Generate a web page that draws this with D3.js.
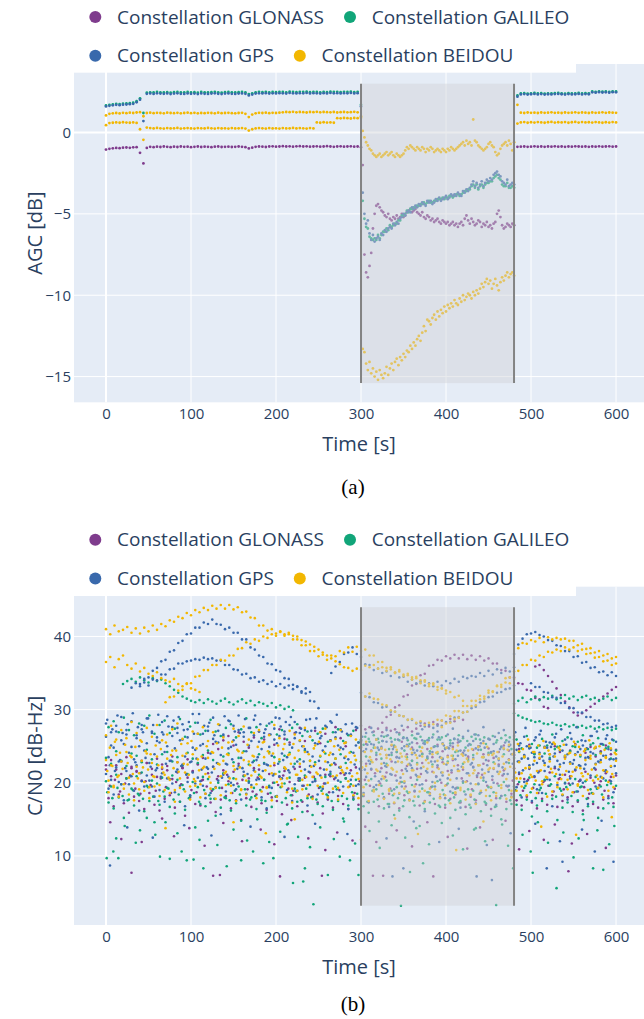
<!DOCTYPE html>
<html>
<head>
<meta charset="utf-8">
<script src="https://cdn.jsdelivr.net/npm/d3@7"></script>
<style>
  body { margin: 0; background: #fff; }
  svg text { font-family: "Open Sans", verdana, arial, sans-serif; }
</style>
</head>
<body>
<div id="chart"></div>
<script>
// ---------- shared ----------
var constellations = ["GLONASS", "GALILEO", "GPS", "BEIDOU"];
var timeTicks = [0, 100, 200, 300, 400, 500, 600];
var agcTicks = [-15, -10, -5, 0];
var cnoTicks = [10, 20, 30, 40];
var jamWindow = [300, 480];
var agcJamRange = [-15.4, 3.0];
var cnoJamRange = [3.2, 44.0];

// ---------- AGC [dB]: pre (t=0..296 every 4 s), jam (t=300..480 every 2 s), post (t=484..600 every 4 s) ----------
var agcGlonassPre = [-1.05,-1.0,-0.97,-0.95,-0.96,-0.93,-0.92,-0.94,-0.91,-0.9,
 -1.25,-1.9,-0.95,-0.88,-0.9,-0.87,-0.89,-0.86,-0.88,-0.9,
 -0.87,-0.89,-0.86,-0.88,-0.87,-0.9,-0.88,-0.86,-0.89,-0.87,
 -0.88,-0.9,-0.87,-0.86,-0.89,-0.88,-0.87,-0.89,-0.88,-0.86,
 -0.88,-0.9,-0.98,-0.93,-0.88,-0.86,-0.87,-0.89,-0.86,-0.85,
 -0.87,-0.86,-0.84,-0.86,-0.85,-0.87,-0.85,-0.84,-0.86,-0.85,
 -0.87,-0.86,-0.85,-0.87,-0.86,-0.84,-0.86,-0.88,-0.86,-0.85,
 -0.87,-0.86,-0.85,-0.87,-0.86];
var agcGlonassJam = [-0.9,-2.0,-7.5,-8.6,-8.9,-8.2,-7.4,-5.9,-5.0,-4.5,
 -4.4,-4.6,-4.8,-4.9,-5.1,-5.2,-5.0,-5.3,-5.4,-5.2,
 -5.3,-5.1,-5.3,-5.2,-5.0,-5.2,-5.1,-4.9,-4.8,-4.7,
 -4.9,-4.8,-4.7,-4.9,-5.0,-5.1,-4.9,-5.2,-5.3,-5.1,
 -5.2,-5.4,-5.3,-5.5,-5.4,-5.3,-5.5,-5.6,-5.4,-5.5,
 -5.6,-5.5,-5.7,-5.6,-5.5,-5.7,-5.6,-5.8,-5.6,-5.5,
 -5.7,-5.3,-5.1,-5.4,-5.6,-5.3,-5.5,-5.7,-5.6,-5.4,
 -5.5,-5.8,-5.6,-5.7,-5.5,-5.8,-5.7,-5.9,-5.6,-5.5,
 -5.0,-4.8,-5.2,-5.7,-5.9,-5.8,-5.6,-5.7,-5.8,-5.6,
 -5.7];
var agcGlonassPost = [-0.88,-0.87,-0.86,-0.88,-0.87,-0.85,-0.87,-0.86,-0.88,-0.86,
 -0.87,-0.85,-0.87,-0.86,-0.88,-0.86,-0.87,-0.85,-0.86,-0.87,
 -0.86,-0.88,-0.86,-0.87,-0.85,-0.87,-0.86,-0.85,-0.87,-0.86];

var agcGalileoPre = [1.66,1.7,1.72,1.76,1.75,1.77,1.79,1.8,1.83,1.92,
 2.1,1.2,2.45,2.47,2.46,2.49,2.47,2.46,2.48,2.45,
 2.48,2.49,2.46,2.47,2.49,2.46,2.48,2.45,2.49,2.47,
 2.46,2.48,2.5,2.47,2.45,2.48,2.49,2.47,2.46,2.48,
 2.49,2.47,2.36,2.41,2.47,2.5,2.48,2.5,2.47,2.49,
 2.48,2.5,2.49,2.47,2.51,2.49,2.48,2.5,2.49,2.51,
 2.48,2.5,2.49,2.47,2.5,2.48,2.51,2.49,2.5,2.48,
 2.5,2.49,2.51,2.48,2.5];
var agcGalileoJam = [1.7,-4.2,-5.3,-5.8,-5.9,-6.4,-6.5,-6.6,-6.5,-6.6,
 -6.3,-6.5,-6.3,-6.1,-6.1,-5.9,-6.0,-5.7,-5.8,-5.7,
 -5.6,-5.6,-5.4,-5.4,-5.1,-5.1,-5.0,-4.8,-4.9,-4.7,
 -4.7,-4.6,-4.6,-4.5,-4.5,-4.4,-4.4,-4.3,-4.4,-4.3,
 -4.2,-4.3,-4.3,-4.2,-4.2,-4.1,-4.1,-4.1,-4.0,-4.1,
 -4.0,-4.0,-3.9,-3.9,-4.0,-3.9,-3.8,-3.8,-3.9,-3.8,
 -3.7,-3.6,-3.6,-3.5,-3.5,-3.3,-3.2,-3.4,-3.2,-3.5,
 -3.3,-3.2,-3.4,-3.2,-3.1,-3.1,-3.0,-3.0,-2.8,-2.7,
 -2.6,-2.8,-2.9,-3.2,-3.3,-3.3,-3.1,-3.4,-3.4,-3.3,
 -3.4];
var agcGalileoPost = [2.28,2.4,2.42,2.39,2.41,2.43,2.4,2.42,2.39,2.41,
 2.4,2.42,2.43,2.41,2.39,2.42,2.4,2.41,2.43,2.4,
 2.42,2.41,2.52,2.5,2.53,2.51,2.52,2.5,2.53,2.52];

var agcGpsPre = [1.6,1.64,1.67,1.7,1.68,1.71,1.72,1.74,1.76,1.86,
 2.02,0.7,2.38,2.4,2.37,2.41,2.39,2.38,2.4,2.36,
 2.39,2.41,2.38,2.37,2.4,2.38,2.39,2.36,2.4,2.38,
 2.37,2.39,2.41,2.38,2.36,2.39,2.4,2.38,2.37,2.39,
 2.4,2.38,2.28,2.33,2.39,2.41,2.4,2.42,2.39,2.41,
 2.4,2.42,2.41,2.39,2.43,2.41,2.4,2.42,2.41,2.43,
 2.4,2.42,2.41,2.39,2.42,2.4,2.43,2.41,2.42,2.4,
 2.42,2.41,2.43,2.4,2.42];
var agcGpsJam = [1.6,-3.7,-5.0,-5.6,-5.4,-6.2,-6.6,-6.3,-6.7,-6.5,
 -6.4,-6.6,-6.2,-6.3,-6.0,-6.1,-5.9,-5.8,-5.9,-5.6,
 -5.7,-5.5,-5.6,-5.3,-5.2,-5.0,-5.1,-4.9,-4.8,-4.9,
 -4.6,-4.7,-4.5,-4.6,-4.4,-4.5,-4.3,-4.4,-4.5,-4.2,
 -4.3,-4.2,-4.4,-4.3,-4.1,-4.2,-4.0,-4.2,-4.1,-4.0,
 -3.9,-4.1,-4.0,-3.8,-3.9,-3.8,-3.9,-3.7,-3.8,-3.9,
 -3.6,-3.7,-3.5,-3.6,-3.4,-3.2,-3.0,-3.3,-3.1,-3.4,
 -3.2,-3.0,-3.3,-3.1,-2.9,-3.0,-2.8,-2.9,-2.6,-2.5,
 -2.4,-2.6,-2.7,-3.0,-3.1,-3.2,-2.9,-3.3,-3.2,-3.1,
 -3.2];
var agcGpsPost = [2.2,2.34,2.36,2.33,2.35,2.37,2.34,2.36,2.33,2.35,
 2.34,2.36,2.37,2.35,2.33,2.36,2.34,2.35,2.37,2.34,
 2.36,2.35,2.47,2.45,2.48,2.46,2.47,2.45,2.48,2.47];

var agcBeidouHiPre = [1.05,1.15,1.18,1.2,1.17,1.21,1.19,1.22,1.2,1.23,
 1.25,1.0,1.2,1.22,1.19,1.21,1.2,1.18,1.22,1.2,
 1.19,1.21,1.18,1.2,1.22,1.19,1.21,1.18,1.2,1.19,
 1.21,1.2,1.18,1.22,1.19,1.2,1.21,1.19,1.18,1.2,
 1.21,1.15,0.95,1.1,1.18,1.21,1.2,1.22,1.19,1.21,
 1.2,1.22,1.24,1.26,1.25,1.27,1.24,1.26,1.25,1.23,
 1.26,1.25,1.27,1.24,1.26,1.25,1.24,1.26,1.23,1.25,
 1.26,1.24,1.25,1.27,1.24];
var agcBeidouHiJam = [1.0,0.1,-0.3,-0.6,-0.8,-1.0,-1.1,-1.3,-1.4,-1.5,
 -1.4,-1.3,-1.5,-1.4,-1.3,-1.2,-1.4,-1.3,-1.2,-1.4,
 -1.5,-1.3,-1.4,-1.5,-1.4,-1.3,-1.1,-0.9,-1.0,-0.8,
 -0.9,-1.0,-1.1,-0.9,-1.0,-1.1,-0.9,-1.0,-1.2,-1.0,
 -1.1,-0.9,-1.0,-1.2,-1.1,-1.0,-1.1,-1.2,-1.0,-1.1,
 -1.2,-1.0,-1.1,-0.9,-1.0,-1.1,-1.0,-0.9,-0.8,-0.7,
 -0.6,-0.8,-0.5,-0.7,-0.6,-0.8,0.8,-0.5,-0.6,-0.8,
 -0.9,-1.0,-1.1,-1.0,-0.9,-0.7,-0.6,-0.8,-0.9,-1.2,
 -1.4,-1.3,-1.0,-0.8,-0.7,-0.6,-0.8,-0.5,-0.7,-1.1,
 -0.6];
var agcBeidouHiPost = [1.7,1.22,1.2,1.23,1.21,1.22,1.2,1.23,1.21,1.22,
 1.24,1.21,1.22,1.2,1.23,1.21,1.22,1.24,1.21,1.23,
 1.22,1.2,1.23,1.21,1.22,1.24,1.21,1.23,1.22,1.21];

var agcBeidouLoPre = [0.45,0.58,0.6,0.62,0.6,0.63,0.61,0.6,0.62,0.59,
 0.2,-0.45,0.3,0.27,0.25,0.28,0.26,0.24,0.27,0.25,
 0.26,0.28,0.24,0.26,0.27,0.25,0.24,0.27,0.26,0.25,
 0.28,0.26,0.24,0.27,0.25,0.26,0.24,0.27,0.25,0.26,
 0.27,0.24,0.12,0.2,0.25,0.27,0.26,0.24,0.27,0.25,
 0.26,0.24,0.27,0.25,0.26,0.28,0.25,0.27,0.26,0.24,
 0.27,0.25,0.62,0.6,0.63,0.61,0.62,0.6,0.88,0.87,
 0.89,0.88,0.86,0.89,0.88];
var agcBeidouLoJam = [0.9,-13.3,-13.5,-14.2,-14.6,-14.1,-14.8,-14.5,-15.0,-14.7,
 -15.2,-14.6,-14.9,-15.1,-14.8,-14.4,-14.9,-14.5,-14.2,-14.6,
 -14.1,-13.9,-14.3,-13.8,-14.0,-13.6,-13.8,-13.4,-13.5,-13.1,
 -13.3,-12.9,-13.1,-12.7,-12.5,-12.8,-12.3,-11.9,-12.2,-11.5,
 -11.6,-11.8,-11.4,-11.2,-11.5,-11.0,-11.3,-10.9,-11.1,-10.7,
 -11.0,-10.6,-10.8,-10.5,-10.7,-10.3,-10.5,-10.6,-10.2,-10.4,
 -10.0,-10.3,-10.1,-9.9,-10.0,-10.2,-9.8,-10.0,-9.7,-9.9,
 -9.6,-9.3,-9.5,-9.2,-9.0,-9.3,-9.1,-9.6,-9.3,-9.0,
 -9.4,-9.7,-9.2,-8.9,-9.1,-8.8,-8.6,-8.9,-8.7,-8.6,
 -8.8];
var agcBeidouLoPost = [0.55,0.62,0.64,0.6,0.63,0.61,0.64,0.62,0.6,0.63,
 0.65,0.61,0.63,0.62,0.64,0.6,0.63,0.65,0.61,0.64,
 0.62,0.63,0.61,0.64,0.62,0.6,0.63,0.61,0.64,0.62];

// ---------- C/N0 [dB-Hz] ----------
// band tracks: [start time, values every 6 s]
var glonassBand = [
 [0, [21.8,20.9,22.4,21.2,20.6,22.0,21.5,20.3,22.7,21.1,20.8,21.9,22.3,20.5,21.4,22.1,20.7,21.6,22.5,20.4,
  21.3,22.2,20.9,21.7,20.2,21.5,22.6,21.0,20.6,22.0,21.8,20.4,21.2,22.4,20.8,21.6,20.1,21.9,22.2,20.7,
  21.4,20.3,22.0,21.1,20.9,22.5,21.3,20.6,21.7,22.1,20.5,
  22.6,21.8,23.2,22.0,21.4,22.9,23.5,21.7,22.3,23.0,21.9,22.7,23.3,21.5,22.1,22.8,21.6,23.1,22.4,21.8,
  23.4,22.2,21.3,22.6,23.0,21.9,22.5,21.7,23.2,22.0,
  21.2,20.5,21.9,20.8,21.6,20.3,21.4,22.0,20.6,21.1,20.9,21.7,20.4,21.5,20.7,21.8,20.2,21.3,20.8,21.0]],
 [3, [17.9,16.8,18.4,17.2,15.9,18.1,17.5,16.4,18.6,17.0,16.2,17.8,18.3,16.6,17.4,15.5,18.0,17.1,16.9,18.5,
  17.3,16.0,17.7,18.2,16.5,17.6,14.9,17.9,16.7,18.4,17.2,16.3,18.0,17.5,15.7,17.0,18.3,16.8,17.4,16.1,
  18.1,17.3,15.8,17.7,16.6,18.2,17.1,16.4,17.8,17.0,
  18.2,17.4,18.9,16.8,17.9,18.5,17.2,16.5,18.3,17.7,18.8,16.9,17.5,18.6,17.1,18.0,16.6,17.8,18.4,17.3,
  16.7,18.1,17.6,18.7,17.0,16.4,17.9,18.2,17.4,18.5,
  17.6,16.9,18.1,17.3,16.5,17.8,17.0,18.3,16.7,17.5,18.0,16.8,17.4,16.2,17.9,17.1,16.6,17.7,18.2,17.2]],
 [0, [22.4,23.1,21.8,22.9,23.5,22.2,21.6,23.0,22.7,21.9,23.3,22.5,21.7,23.6,22.8,22.0,23.2,21.5,22.6,23.4,
  24.1,25.3,24.6,25.8,26.4,25.1,26.9,25.6,24.8,26.2,27.0,25.9,26.6,25.2,27.3,26.0,25.5,26.8,27.5,25.7,
  26.3,27.1,25.4,26.7,25.8,27.6,26.1,25.0,26.5,27.2,25.6,
  25.3,24.4,25.9,24.7,23.8,25.1,24.2,25.6,23.9,24.8,25.4,24.0,24.6,23.5,25.2,24.3,23.7,24.9,25.5,24.1,
  23.6,24.5,25.0,23.9,24.7,23.4,24.2,25.1,24.4,23.8,
  24.6,23.7,25.2,24.0,23.3,24.8,23.9,25.0,24.2,23.5,24.4,25.3,23.8,24.1,24.9,23.6,24.3,25.1,23.9,24.5]],
 [4.5, [19.6,20.4,18.8,19.9,21.0,19.2,18.5,20.2,19.7,18.9,20.6,19.4,18.6,20.1,19.8,21.2,19.0,18.7,20.3,19.5,
  18.9,20.5,19.3,21.1,18.6,19.9,20.4,19.1,18.8,20.7,19.4,18.5,20.0,19.7,21.0,19.2,18.9,20.3,19.6,18.4,
  20.8,19.3,19.9,18.7,20.5,19.0,21.1,19.5,18.6,20.2,
  20.4,19.6,21.3,19.9,20.8,19.2,21.0,20.1,19.5,20.7,19.8,21.2,20.3,19.4,20.9,20.0,19.7,21.4,19.3,20.6,
  20.2,19.1,20.8,21.1,19.6,20.4,19.9,21.0,19.5,20.3,
  19.8,18.9,20.4,19.3,18.6,20.1,19.6,18.8,20.5,19.1,19.9,18.7,20.2,19.4,18.5,20.0,19.7,18.9,20.3,19.2]]
];
var galileoBand = [
 [0, [20.2,19.5,21.1,19.8,20.6,19.2,20.9,21.4,19.6,20.3,19.9,20.7,19.3,21.0,20.4,19.7,21.2,20.1,19.4,20.8,
  20.5,19.1,20.0,21.3,19.8,20.6,19.5,20.9,20.2,19.3,21.1,20.4,19.6,20.0,21.5,19.9,20.7,19.2,20.3,21.0,
  19.7,20.5,19.4,20.8,21.2,19.5,20.1,20.6,19.8,20.4,19.6,
  19.8,20.5,19.1,19.6,20.3,18.9,19.4,20.1,18.8,19.7,20.4,19.2,18.7,19.5,20.2,19.0,19.9,18.6,19.3,20.0,
  19.1,18.9,19.8,20.3,19.4,18.7,19.6,20.1,19.0,19.5,
  20.1,19.3,20.7,19.8,19.0,20.4,19.6,20.9,19.2,20.0,19.7,20.5,19.4,20.2,19.1,20.8,19.5,20.3,19.9,19.6]],
 [3, [17.3,16.5,18.0,15.2,17.7,16.9,18.3,16.1,17.5,14.6,17.0,18.1,16.7,15.8,17.4,16.3,18.2,13.9,17.1,16.8,
  17.8,15.5,16.6,17.9,16.2,17.2,14.8,16.9,18.0,16.4,17.6,15.9,16.7,18.1,17.3,14.3,16.5,17.4,16.0,17.9,
  15.6,17.1,16.8,18.2,16.3,17.5,15.1,16.9,17.7,16.4,
  16.8,15.9,17.4,14.7,16.5,17.1,15.6,16.2,17.6,15.3,16.9,14.1,16.4,17.3,15.8,16.7,17.0,15.2,16.3,17.5,
  15.7,16.6,13.8,16.1,17.2,15.5,16.8,15.0,16.4,17.1,
  17.0,16.3,17.7,15.4,16.9,17.5,16.1,17.8,14.9,16.6,17.3,16.0,17.6,15.7,16.8,17.4,15.2,16.5,17.2,16.7]],
 [0, [23.4,22.6,24.3,23.0,22.3,24.0,23.7,22.8,24.5,23.2,22.5,23.9,24.2,22.9,23.5,22.4,24.1,23.3,22.7,23.8,
  24.4,23.1,22.6,23.6,24.0,22.8,23.4,24.3,22.5,23.0,23.9,22.7,24.2,23.5,22.9,23.7,24.1,22.6,23.2,24.4,
  23.0,22.8,23.6,24.0,22.4,23.3,23.9,22.7,24.2,23.1,22.9,
  23.6,22.9,24.1,23.3,22.6,23.8,24.2,22.8,23.5,23.0,22.7,23.9,23.4,22.5,24.0,23.2,22.9,23.7,24.3,22.6,
  23.1,23.8,22.4,23.5,24.1,22.8,23.3,23.9,22.7,23.4,
  24.2,23.5,24.8,23.9,25.1,24.0,23.4,24.6,25.0,23.7,24.3,24.9,23.6,24.5,25.2,23.8,24.1,24.7,23.3,24.4]],
 [3, [27.6,28.4,26.9,28.9,27.2,26.5,28.1,27.8,29.2,26.7,27.9,28.5,26.8,27.4,28.7,26.3,27.7,28.2,26.6,27.1,
  28.6,27.0,26.4,27.5,28.0,26.2,27.3,28.8,26.9,27.6,26.1,27.8,28.3,26.6,27.2,25.9,27.5,28.0,26.4,27.0,
  25.8,26.7,27.4,25.6,26.9,27.3,25.7,26.5,27.1,25.5,
  25.2,26.0,24.8,25.5,26.3,24.6,25.1,25.8,24.4,25.3,26.1,24.9,25.6,24.3,25.0,25.9,24.7,25.4,24.2,25.7,
  24.8,25.2,26.0,24.5,25.3,24.1,25.5,24.9,25.8,24.6,
  25.9,24.7,26.4,25.3,24.8,26.0,25.1,26.6,24.9,25.7,26.2,25.0,25.6,26.5,24.6,25.4,26.1,25.2,24.9,25.8]],
 [1.5, [18.7,17.9,19.3,18.2,17.6,19.0,18.5,17.8,19.4,18.1,17.5,18.8,19.2,17.7,18.4,19.1,17.9,18.6,17.4,19.0,
  18.3,17.8,19.3,18.0,17.6,18.9,18.4,19.1,17.7,18.2,19.0,17.5,18.6,18.1,19.4,17.9,18.3,18.8,17.6,19.2,
  18.0,17.7,18.9,18.4,17.5,19.1,18.2,17.8,18.7,18.5,
  18.2,17.4,18.9,17.7,18.5,17.1,18.3,17.9,16.8,18.6,17.5,18.1,17.2,18.7,17.8,16.9,18.4,17.6,18.0,17.3,
  18.8,17.0,17.7,18.5,17.4,18.2,16.7,17.9,18.3,17.6,
  19.0,18.3,19.6,18.7,17.9,19.3,18.5,19.8,18.1,18.9,19.4,18.2,18.8,19.5,17.8,18.6,19.2,18.4,19.7,18.0]]
];
var gpsBand = [
 [0, [28.1,26.9,27.8,29.0,27.2,28.4,26.5,27.9,28.8,27.0,26.2,28.3,29.1,27.6,26.8,28.0,27.3,29.4,28.2,26.7,
  27.7,28.9,27.1,26.4,28.5,27.8,29.2,26.9,27.5,28.6,27.0,26.3,28.1,27.4,28.8,26.6,27.9,28.3,26.8,27.2,
  28.7,27.5,26.1,27.8,28.4,26.9,27.3,28.0,26.5,27.6,25.9,
  26.8,27.5,25.9,26.4,27.2,25.6,26.9,27.8,26.1,25.5,26.7,27.3,25.8,26.2,27.0,25.4,26.6,27.4,25.9,26.3,
  27.1,25.7,26.5,27.6,26.0,25.3,26.8,27.2,25.6,26.4,
  25.1,26.3,24.7,25.8,26.6,24.9,25.5,26.2,24.4,25.9,26.8,25.2,24.6,25.7,26.4,24.8,25.3,26.0,24.5,25.6]],
 [3, [23.5,24.8,22.9,25.3,24.1,23.2,25.0,24.4,22.7,23.9,25.5,24.2,23.0,24.7,25.8,23.6,22.8,24.5,25.1,23.3,
  24.0,25.6,23.8,22.6,24.9,25.2,23.4,24.3,25.7,23.1,24.6,22.5,23.7,25.4,24.0,23.5,24.8,22.9,25.0,24.2,
  23.6,25.3,24.4,22.8,23.9,25.1,24.6,23.2,24.1,25.5,
  24.3,23.0,25.2,24.5,22.7,23.8,24.9,23.4,25.0,22.6,24.1,23.7,25.3,24.0,22.9,23.5,24.6,25.1,23.2,24.4,
  23.8,22.5,24.7,25.4,23.1,24.2,23.6,24.9,22.8,23.9,
  24.5,23.3,25.0,24.1,22.7,23.6,24.8,25.3,23.0,24.4,23.9,22.6,24.2,25.1,23.5,24.0,22.9,23.7,24.6,23.2]],
 [0, [21.2,20.4,22.1,19.8,21.6,20.9,22.4,20.2,21.0,19.5,22.0,21.3,20.6,19.9,21.8,22.5,20.1,21.4,20.7,19.6,
  21.9,22.2,20.3,21.1,20.8,19.7,22.3,21.5,20.0,21.7,20.5,22.6,19.4,21.2,20.9,22.0,21.4,19.8,20.6,21.8,
  22.3,20.2,21.0,19.9,21.5,20.7,22.1,21.3,20.4,19.6,21.7,
  20.8,21.9,19.7,20.5,22.2,21.1,20.3,19.5,21.6,22.0,20.9,19.8,21.4,20.1,22.4,21.0,20.6,19.4,21.8,20.2,
  21.3,22.1,19.9,20.7,21.5,20.0,22.3,21.2,19.6,20.8,
  21.4,20.1,22.0,20.9,19.7,21.6,20.4,22.2,21.1,19.9,20.6,21.8,20.3,22.5,21.0,19.5,20.8,21.7,20.2,21.3]],
 [3, [19.2,18.4,20.1,17.6,19.8,18.9,16.2,19.5,20.3,18.1,19.0,17.4,20.5,18.7,19.6,16.8,18.3,19.9,20.2,17.9,
  18.6,19.4,15.7,18.8,20.0,19.1,17.7,18.5,19.7,20.4,18.0,16.5,19.3,18.2,20.6,19.0,17.5,18.9,19.6,16.9,
  20.1,18.4,19.2,17.8,18.7,20.3,19.5,16.4,18.1,19.8,
  18.6,17.3,19.4,20.2,18.0,16.7,19.1,18.5,20.0,17.6,18.9,19.7,16.1,18.3,19.5,20.4,17.9,18.8,19.2,16.6,
  18.4,19.9,17.2,18.7,20.1,19.3,17.0,18.2,19.6,18.1,
  19.4,18.0,20.2,17.5,19.1,18.6,20.5,16.8,19.7,18.3,17.7,19.9,18.8,20.0,17.1,18.5,19.3,20.6,17.9,18.7]],
 [0, [26.3,25.1,27.0,25.8,26.6,24.9,26.1,27.3,25.4,26.8,25.7,26.9,25.0,26.4,27.5,25.9,26.2,24.8,26.7,25.3,
  27.1,26.0,25.5,26.6,24.7,25.8,27.2,26.3,25.1,26.5,25.6,26.8,24.9,25.9,26.4,27.0,25.2,26.1,25.7,24.6,
  26.3,25.4,26.9,25.0,25.8,26.2,24.8,25.5,26.6,25.1,24.9,
  24.6,25.3,23.8,24.9,25.6,24.1,23.5,24.7,25.2,23.9,24.4,25.8,23.6,24.2,25.0,23.3,24.8,25.4,23.7,24.0,
  25.1,23.4,24.5,25.7,23.9,24.3,23.1,24.6,25.0,23.8,
  22.9,23.8,22.4,23.5,24.1,22.7,23.2,24.0,22.5,23.6,22.8,23.9,22.3,23.4,24.2,22.6,23.1,23.7,22.2,23.3]],
 [1.5, [28.6,27.3,29.2,26.8,28.0,29.5,27.6,26.9,28.8,27.9,29.3,26.6,27.7,28.5,29.0,27.2,28.3,26.7,29.4,27.8,
  28.2,26.5,27.9,29.1,28.4,27.0,26.8,28.7,27.5,29.2,28.0,27.3,26.6,28.9,27.7,28.3,29.0,26.9,27.4,28.6,
  27.1,28.8,26.4,27.6,28.2,29.3,27.0,26.7,28.1,27.5,
  26.3,25.2,26.9,24.8,25.7,26.5,24.6,25.9,26.1,25.0,24.5,26.7,25.4,25.8,24.9,26.2,25.1,24.7,26.0,25.6,
  24.4,25.3,26.6,25.0,24.8,25.9,26.3,24.6,25.5,25.2,
  26.9,25.4,27.5,24.8,26.2,27.1,25.6,24.9,26.7,27.3,25.2,26.0,27.6,25.8,24.7,26.4,27.0,25.3,26.5,25.9]],
 [4.5, [22.4,21.6,23.1,22.0,20.9,22.8,21.3,23.4,22.2,21.7,20.8,22.6,23.0,21.5,22.3,21.1,22.9,23.3,21.8,22.1,
  21.4,22.7,20.7,22.5,23.2,21.9,22.0,21.2,22.8,23.5,21.6,22.4,21.0,22.6,23.1,21.7,22.2,20.6,22.9,21.5,
  22.3,23.0,21.8,21.1,22.7,22.1,23.4,21.3,22.5,21.9,
  21.8,22.6,20.9,21.5,22.3,21.2,22.8,20.7,21.9,22.4,21.1,22.0,21.6,22.9,20.8,21.4,22.5,21.7,20.6,22.2,
  21.3,22.7,21.0,21.8,22.4,20.9,21.5,22.1,21.2,22.6,
  22.9,21.7,23.3,22.5,21.4,23.0,22.2,23.6,21.8,22.7,21.5,23.1,22.4,21.9,23.4,22.0,22.8,21.6,23.2,22.3]]
];
var beidouBand = [
 [0, [23.1,22.4,23.8,22.9,24.2,23.5,22.2,23.0,24.0,22.7,23.6,22.1,23.3,24.4,22.8,23.7,22.5,23.9,23.2,22.0,
  23.4,24.1,22.6,23.0,23.8,22.3,24.3,23.1,22.9,23.6,22.4,23.5,24.0,22.7,23.2,22.1,23.9,23.4,22.6,24.2,
  23.0,22.5,23.7,22.9,24.1,23.3,22.2,23.6,22.8,23.1,22.7,
  22.3,23.1,21.8,22.6,23.4,22.0,21.5,22.8,23.2,21.7,22.5,23.6,21.9,22.2,23.0,21.4,22.7,23.3,21.6,22.1,
  22.9,21.3,22.4,23.5,21.8,22.0,21.2,22.6,23.1,21.9,
  22.8,23.5,22.1,23.0,23.9,22.4,22.9,23.6,22.2,23.3,22.6,23.8,22.0,23.1,23.7,22.5,22.8,23.4,22.3,23.0]],
 [3, [20.3,19.6,21.0,19.2,20.7,19.9,21.3,20.1,19.4,20.8,19.7,21.1,20.4,19.0,20.6,21.4,19.5,20.2,19.8,21.2,
  20.0,19.3,20.9,21.5,19.6,20.5,19.1,20.3,21.0,19.8,20.7,19.4,21.3,20.1,19.9,20.6,19.2,21.1,20.4,19.7,
  20.8,21.2,19.5,20.0,20.9,19.3,21.4,20.2,19.6,20.5,
  19.4,20.3,18.8,19.7,20.6,19.1,18.5,19.9,20.2,18.7,19.5,20.8,18.9,19.2,20.0,18.4,19.6,20.4,18.6,19.3,
  20.1,18.3,19.8,20.7,19.0,19.4,18.2,19.7,20.5,18.9,
  20.6,21.3,19.9,20.8,21.6,20.2,20.7,21.4,20.0,21.1,20.4,21.5,19.8,20.9,21.2,20.3,20.5,21.7,20.1,20.8]],
 [0, [26.5,27.8,25.9,27.2,26.1,28.3,26.8,25.6,27.5,26.3,27.9,25.8,26.6,27.3,28.1,26.0,25.4,27.0,26.7,27.6,
  25.7,26.9,28.0,26.2,25.5,27.4,26.4,27.7,25.9,26.8,27.2,25.6,26.5,27.9,26.1,25.3,27.1,26.6,25.8,27.5,
  26.3,25.1,26.9,27.4,25.7,26.0,27.2,25.5,26.4,25.9,24.8,
  25.6,24.3,25.9,24.7,23.8,25.2,24.5,23.6,25.0,24.1,23.4,24.8,25.5,23.9,24.2,25.3,23.5,24.6,25.1,23.7,
  24.4,23.2,24.9,25.4,23.8,24.0,23.3,24.7,25.2,24.1,
  24.3,23.6,25.0,24.2,23.4,24.8,23.9,25.3,24.5,23.7,24.1,25.2,23.8,24.6,23.3,24.9,24.0,23.5,24.7,23.9]],
 [3, [18.7,19.4,18.1,19.8,18.4,17.6,19.1,18.9,17.9,19.5,18.2,19.0,18.6,17.4,19.3,18.8,17.7,19.6,18.0,18.5,
  19.2,17.8,18.3,19.7,18.6,17.5,19.0,18.4,19.4,17.9,18.8,19.3,17.6,18.1,19.5,18.7,17.3,18.9,19.1,18.2,
  17.8,19.6,18.5,18.0,19.2,17.7,18.6,19.4,18.3,17.9,
  18.4,17.5,19.0,18.2,17.8,18.9,17.3,18.6,19.2,17.6,18.1,18.8,17.4,18.5,19.1,17.9,18.3,17.2,18.7,19.0,
  17.7,18.4,17.1,18.9,18.2,17.6,18.6,19.3,17.8,18.0,
  18.9,19.5,18.3,19.2,18.6,19.8,18.1,18.8,19.4,18.4,19.1,18.7,19.6,18.2,19.0,18.5,19.3,18.0,18.9,19.4]],
 [1.5, [21.6,22.3,20.8,21.9,22.7,21.2,20.6,22.1,21.8,20.9,22.4,21.4,20.7,22.0,21.5,22.6,21.1,20.5,21.7,22.2,
  20.8,21.9,22.5,21.3,20.6,21.8,22.1,21.0,22.4,21.5,20.9,21.7,22.3,21.2,20.5,21.9,22.6,21.1,21.6,20.8,
  22.2,21.4,20.7,21.8,22.5,21.0,21.7,22.0,20.9,21.3,
  22.1,21.3,22.8,21.6,20.9,22.4,21.8,22.9,21.2,22.5,21.7,20.8,22.2,22.7,21.4,21.9,22.6,21.1,22.3,21.6,
  22.8,21.0,21.7,22.4,21.3,22.0,22.6,21.5,21.9,22.2,
  21.4,20.6,22.0,21.1,20.3,21.7,20.8,21.9,21.2,20.5,21.6,20.9,22.1,21.3,20.4,21.8,21.0,20.7,21.5,21.2]],
 [4.5, [24.8,25.6,24.1,25.2,23.7,24.9,25.8,24.3,23.9,25.1,24.6,25.5,23.8,24.4,25.3,24.0,25.7,24.7,23.6,25.0,
  24.2,25.4,24.8,23.9,25.6,24.5,24.1,25.2,23.7,24.9,25.5,24.3,24.0,25.1,24.6,23.8,25.3,24.4,25.0,23.9,
  24.7,25.6,24.2,23.8,25.0,24.5,25.4,24.1,23.7,24.8,
  24.2,23.5,24.8,23.9,24.5,23.2,24.9,24.0,23.6,24.6,23.8,24.3,23.1,24.7,24.1,23.4,24.8,23.7,24.4,23.9,
  23.3,24.6,24.0,23.5,24.9,23.8,24.2,23.6,24.5,23.9,
  25.3,24.6,25.9,24.2,25.1,25.7,24.4,25.5,24.8,25.2,24.0,25.6,24.9,24.3,25.8,24.7,25.0,24.5,25.4,24.1]]
];

// high-elevation tracks: [start time, values every 5 s]
var glonassArcs = [
 [325, [28.2,29.0,29.3,30.3,30.6,31.8,32.0,33.3,33.5,34.7,34.9,36.0,36.1,36.8,36.7,37.3,37.0,37.5,37.0,37.5,
  36.9,37.4,36.8,37.3,36.7,37.0,36.3,36.3,35.4,35.3,34.4,34.4,33.6,33.5,32.7,32.6,31.6,31.4,30.4,30.2]],
 [505, [35.9,36.1,35.4,34.6,33.8,32.9,32.0,31.1,30.3,29.6,29.2,29.5,29.9,30.4,30.8,31.3,31.8,32.2,32.7,33.1]],
 [300, [27.8,27.3,27.6,27.0,27.4,26.9,27.5,27.1,27.3,26.8,27.2,27.6,27.0,27.4,27.8,28.1,27.7,28.3,28.0,28.5,
  28.2,28.7,28.4,28.9,28.6]]
];
var galileoArcs = [
 [480, [30.8,31.2,31.6,31.0,31.4,31.8,31.3,31.7,31.5,31.9,31.4,31.6,32.0,31.5,31.8,31.3,31.7,31.9,31.4,31.6,
  31.2,31.5,31.8,31.3,31.6]],
 [20, [33.5,33.9,34.2,33.8,34.4,34.0,33.7,34.3,33.9,34.1,33.6,33.2,32.7,32.3,31.8,31.5,31.2,31.0,31.3,30.9,
  31.4,31.1,30.8,31.2,31.5,31.0,30.7,31.1,31.4,30.9,31.2,30.6,31.0,30.8,30.5,30.9,30.3,30.6,30.1,30.4,29.9]],
 [300, [25.8,26.3,25.6,26.5,26.0,25.7,26.4,26.1,25.9,26.6,26.2,25.8,26.5,26.0,26.3,25.7,26.1,26.6,25.9,26.2,
  26.4,25.8,26.0,26.5,26.1,25.7,26.3,26.6,25.9,26.2,26.0,26.4,25.8,26.1,26.5,26.2,25.9]],
 [480, [29.5,29.2,28.9,28.7,28.5,28.3,28.4,28.1,28.0,28.2,27.9,27.8,28.0,27.7,27.9,27.6,27.8,27.5,27.7,27.4,
  27.6,27.3,27.5,27.2,27.4]]
];
var gpsArcs = [
 [30, [33.0,33.6,33.5,34.2,34.4,35.3,35.7,36.6,36.8,37.9,38.1,39.1,39.4,40.3,40.4,41.2,41.2,41.9,41.7,42.3,
  41.7,41.6,41.0,41.2,40.5,40.5,39.6,39.6,38.5,38.2,37.4,37.2,36.3,36.2,35.4,35.2,34.3,34.2,33.4,33.2,
  32.3,32.2,31.2,31.1,30.2]],
 [40, [33.2,33.7,33.3,34.1,34.0,34.8,34.8,35.5,35.6,36.3,36.3,36.6,36.7,36.9,36.8,37.1,36.9,37.0,36.7,36.7,
  36.1,36.1,35.5,35.4,34.8,34.9,34.3,34.4,33.8,34.0,33.5,33.8,33.2,33.5,33.0,33.3,32.8,33.1,32.5,32.9,32.4]],
 [265, [35.0,35.9,36.5,37.6,37.8,38.5,37.6,37.2,36.2,36.1,35.4,35.6,35.0,35.2,34.6,35.0,34.4,34.5,33.8,34.1,
  33.6,33.8,33.3,33.6,33.2,33.8,33.3,33.9,33.6,34.2,33.8,34.5,34.3,34.6,34.5,35.0,34.6,35.3,34.8,35.5,
  35.0,35.7,35.2,35.8]],
 [480, [37.6,38.9,39.7,40.3,40.4,40.6,40.2,40.0,39.5,39.4,38.8,38.7,38.0,38.0,37.2,37.3,36.4,36.5,35.7,35.8,
  35.1,35.2,34.7,35.1,34.6]],
 [300, [32.3,31.8,31.7,31.0,30.9,30.3,30.4,29.7,29.7,29.2,29.1,28.6,28.6,28.1,28.2,27.7,27.9,27.5,27.8,27.8,
  28.3,28.3,28.9,29.0,29.6,29.7,30.2,30.4,31.0,31.1,31.7,31.8,32.3,32.4,32.8,32.9,33.3]],
 [500, [33.6,33.1,33.1,32.4,32.3,31.7,31.6,30.9,30.9,30.2,30.2,29.6,29.6,29.0,29.0,28.5,28.5,28.0,28.1,27.6,27.8]]
];
var beidouArcs = [
 [0, [41.0,40.3,41.5,40.7,40.9,41.3,40.5,41.1,40.4,41.2,40.7,41.5,40.9,41.7,41.4,42.2,42.0,42.7,42.5,43.2,
  42.9,43.6,43.3,43.9,43.6,44.2,43.8,44.3,43.8,44.3,43.7,44.0,43.3,43.4,42.6,42.5,41.5,41.5,40.8,41.0,
  40.4,40.7,40.1,40.3,39.6,39.6,38.8,38.8,38.0,38.0,37.3,37.5,36.8,37.4,37.3,38.0,37.8,38.5,37.9,38.6,
  38.0,38.2,37.4,37.4,36.5,36.5,35.7,35.8,35.1,35.2,34.6,34.7,34.1,34.3,33.6,33.8,33.2,33.4,32.7,32.9,
  32.2,32.4,31.7,31.9,31.2]],
 [70, [31.0,31.7,31.8,32.6,32.7,33.5,33.6,34.5,34.6,35.4,35.4,36.1,36.1,36.8,36.7,37.4,37.4,38.3,38.4,39.2,
  39.0,39.6,39.4,40.0,39.8,40.3,40.1,40.6,40.3,40.5,40.1,40.0,39.5,39.3,38.9,38.6,38.2,37.8,37.4,37.0,
  36.6,36.2,35.8,35.7,35.3,35.6,35.4,36.0,35.8,36.1,35.6,35.8,35.3,35.5,35.0,35.4,34.8,34.9,34.4,34.5,
  34.0,34.0,33.5,33.6,33.1,32.9,32.6]],
 [0, [36.5,37.2,35.8,36.9,37.4,36.1,35.6,36.3,35.2,35.7,34.9,34.6,35.1,34.3,34.0,33.8,34.2,33.5,33.2,33.6,
  32.9,32.7,32.4]],
 [395, [27.6,28.1,28.2,28.7,28.9,29.6,29.7,30.5,30.6,31.4,31.5,32.3,32.4,33.3,33.4,34.3,34.4,35.2,35.3,36.1,
  36.1,36.8,36.7,37.4,37.2,37.9,37.8,38.2,38.0,38.5,38.2,38.5,38.0,38.2,37.6,37.7,37.1,37.2,36.6,36.7,
  36.1,36.3]],
 [485, [38.4,39.1,39.0,39.5,39.3,39.8,39.2,39.9,39.6,39.8,39.6,39.7,39.4,39.4,38.8,39.0,38.3,38.4,37.8,38.0,
  37.4,37.6,37.0,37.2]],
 [305, [31.8,32.2,31.5,31.4,30.7,30.6,29.9,29.7,29.2,29.1,28.6,28.7,28.2,28.4,27.9,28.2,28.0,28.6,28.5,29.2,
  29.1,29.8,29.8,30.5,30.5,31.2,31.2,31.9,31.8,32.6,32.5,33.2,33.1,33.7,33.6,34.2]]
];

// scattered low readings: [time, C/N0]
var glonassLow = [[30,7.7],[126,7.3],[134,7.4],[204.7,7.2],[254,7.3],[314,7.3],[326,7.3],[385,7.2],[544,7.9],
 [5,14.6],[18,12.3],[42,11.9],[66,15.1],[80,12.7],[98,13.8],[116,11.4],[138,14.5],[160,12.0],[182,13.6],
 [198,11.6],[218,14.9],[238,12.4],[258,10.8],[272,13.2],[290,12.1],[305,14.0],[318,11.9],[342,13.5],
 [360,11.3],[378,14.6],[402,12.6],[425,11.0],[440,13.9],[455,12.2],[470,14.8],[486,10.9],[498,13.4],
 [515,12.2],[528,14.3],[548,11.7],[566,13.0],[588,11.1]];
var galileoLow = [[0.8,9.7],[8.6,10.6],[14.5,9.7],[40,13.5],[63.5,9.9],[75,9.6],[89,10.6],[95,9.4],[103,9.5],
 [114.5,8.3],[142,8.6],[159,9.4],[173,10.6],[185,9.0],[196.9,9.7],[220,6.3],[232,6.5],[234,8.3],[244,3.4],
 [261,7.4],[275,9.9],[287,9.4],[297,7.4],[347,3.2],[357.6,7.8],[373,9.0],[459,3.3],[479,8.3],[502,7.7],
 [530,5.6],[573,8.3],[585,8.1],[550,9.8],[499.6,10.6],
 [12,12.4],[22,14.1],[35,11.8],[48,15.2],[58,12.9],[70,14.6],[84,13.1],[110,12.2],[120,14.8],[131,11.5],
 [150,13.6],[166,12.1],[178,15.0],[192,11.9],[205,13.3],[214,14.4],[226,12.6],[240,11.2],[252,13.9],
 [268,12.3],[280,14.7],[293,11.7],[310,13.4],[322,11.1],[336,14.2],[352,12.5],[365,13.8],[380,11.6],
 [395,14.5],[408,12.8],[420,10.9],[433,13.6],[446,12.0],[466,14.3],[473,11.4],[490,12.9],[508,14.6],
 [520,11.8],[538,13.2],[556,12.4],[562,14.9],[578,13.5],[592,11.6],[598,14.1]];
var gpsLow = [[4.7,8.7],[337,7.2],[349.8,8.3],[436,7.2],[454,6.7],[518.5,8.3],[537,9.2],[575,10.6],[597,9.2],
 [25,13.9],[55,12.5],[92,14.2],[124,12.8],[170,14.0],[210,12.6],[246,14.4],[284,13.0],[330,12.4],
 [362,14.7],[392,11.9],[415,13.7],[448,11.5],[476,13.1],[505,14.4],[534,12.0],[560,13.6],[583,14.8]];
var beidouLow = [[70,13.8],[150,14.6],[222,15.0],[300,12.2],[340,15.1],[367,13.0],[412,10.8],[444,14.7],
 [512,14.0],[553,12.9],[595,15.3],[188,13.1]];

// ---------- drawing ----------
var colors = {
  GLONASS: "rgb(127,60,141)",
  GALILEO: "rgb(17,165,121)",
  GPS: "rgb(57,105,172)",
  BEIDOU: "rgb(242,183,1)"
};
var plotLeft = 74, plotRight = 644, legendRight = 576;

var x = d3.scaleLinear().domain([-37.65, 632.9]).range([plotLeft, plotRight]);

var svg = d3.select("#chart").append("svg")
    .attr("width", 644)
    .attr("height", 1019);

function agcPoints(pre, jam, post) {
  return pre.map(function (v, i) { return { t: i * 4, v: v }; })
    .concat(jam.map(function (v, i) { return { t: 300 + i * 2, v: v }; }))
    .concat(post.map(function (v, i) { return { t: 484 + i * 4, v: v }; }));
}

function trackPoints(tracks, step) {
  var pts = [];
  tracks.forEach(function (tr) {
    tr[1].forEach(function (v, i) { pts.push({ t: tr[0] + i * step, v: v }); });
  });
  return pts;
}

function lowPoints(list) {
  return list.map(function (d) { return { t: d[0], v: d[1] }; });
}

function drawPanel(p) {
  var g = svg.append("g");
  var y = d3.scaleLinear().domain(p.yDomain).range([p.bottom, p.top]);

  g.append("rect")
    .attr("x", plotLeft).attr("y", p.top)
    .attr("width", plotRight - plotLeft).attr("height", p.bottom - p.top)
    .attr("fill", "#e5ecf6");

  // grid
  g.selectAll(".vgrid").data(timeTicks).enter().append("line")
    .attr("x1", function (d) { return x(d); })
    .attr("x2", function (d) { return x(d); })
    .attr("y1", p.top).attr("y2", p.bottom)
    .attr("stroke", "#fff")
    .attr("stroke-width", function (d) { return d === 0 ? 2 : 1; });
  g.selectAll(".hgrid").data(p.yTicks).enter().append("line")
    .attr("x1", plotLeft).attr("x2", plotRight)
    .attr("y1", function (d) { return y(d); })
    .attr("y2", function (d) { return y(d); })
    .attr("stroke", "#fff")
    .attr("stroke-width", function (d) { return d === 0 ? 2 : 1; });

  // legend background covers the top strip of the plot
  g.append("rect")
    .attr("x", 0).attr("y", p.top - 20)
    .attr("width", legendRight).attr("height", p.legendBottom - p.top + 20)
    .attr("fill", "#fff");

  // data, one layer per constellation
  p.series.forEach(function (s) {
    g.append("g").selectAll("circle")
      .data(s.points)
      .enter()
      .append("circle")
      .attr("cx", function (d) { return x(d.t); })
      .attr("cy", function (d) { return y(d.v); })
      .attr("r", p.dotR)
      .attr("fill", colors[s.name]);
  });

  // jamming window
  g.append("rect")
    .attr("x", x(jamWindow[0]))
    .attr("y", y(p.jamRange[1]))
    .attr("width", x(jamWindow[1]) - x(jamWindow[0]))
    .attr("height", y(p.jamRange[0]) - y(p.jamRange[1]))
    .attr("fill", "rgb(208,210,214)")
    .attr("opacity", 0.45);
  g.selectAll(".jamline").data(jamWindow).enter().append("line")
    .attr("x1", function (d) { return x(d); })
    .attr("x2", function (d) { return x(d); })
    .attr("y1", y(p.jamRange[1]))
    .attr("y2", y(p.jamRange[0]))
    .attr("stroke", "#838383")
    .attr("stroke-width", 2);

  // axes
  var xAxis = g.append("g")
    .attr("transform", "translate(0," + p.bottom + ")")
    .call(d3.axisBottom(x).tickValues(timeTicks).tickSize(0).tickPadding(6));
  var yAxis = g.append("g")
    .attr("transform", "translate(" + plotLeft + ",0)")
    .call(d3.axisLeft(y).tickValues(p.yTicks).tickSize(0).tickPadding(3));
  [xAxis, yAxis].forEach(function (a) {
    a.select(".domain").remove();
    a.attr("font-family", null).attr("font-size", null).attr("color", "#2a3f5f");
    a.selectAll("text").style("font-size", "15px");
  });

  g.append("text")
    .attr("x", (plotLeft + plotRight) / 2)
    .attr("y", p.bottom + 49)
    .attr("text-anchor", "middle")
    .style("font-size", "20px")
    .attr("fill", "#2a3f5f")
    .text("Time [s]");

  g.append("text")
    .attr("transform", "translate(42," + ((p.top + p.bottom) / 2) + ") rotate(-90)")
    .attr("text-anchor", "middle")
    .style("font-size", "20px")
    .attr("fill", "#2a3f5f")
    .text(p.yTitle);

  g.append("text")
    .attr("x", 353)
    .attr("y", p.captionY)
    .attr("text-anchor", "middle")
    .style("font-family", "'Liberation Serif', 'Times New Roman', serif")
    .style("font-size", "21px")
    .attr("fill", "#000")
    .text(p.caption);

  // legend
  var legendPos = {
    GLONASS: [95.3, 0], GALILEO: [350, 0], GPS: [95.3, 1], BEIDOU: [299.8, 1]
  };
  constellations.forEach(function (c) {
    var lx = legendPos[c][0];
    var ly = p.legendRow1 + legendPos[c][1] * 38.7;
    g.append("circle").attr("cx", lx).attr("cy", ly).attr("r", 6).attr("fill", colors[c]);
    g.append("text")
      .attr("x", lx + 21.7).attr("y", ly)
      .attr("dy", "0.35em")
      .style("font-size", "19px")
      .attr("fill", "#2a3f5f")
      .text("Constellation " + c);
  });
}

drawPanel({
  top: 64, bottom: 402.3, legendBottom: 72.7, legendRow1: 17.1, captionY: 494,
  yDomain: [-16.58, 4.21], yTicks: agcTicks, yTitle: "AGC [dB]", caption: "(a)",
  jamRange: agcJamRange, dotR: 1.4,
  series: [
    { name: "GLONASS", points: agcPoints(agcGlonassPre, agcGlonassJam, agcGlonassPost) },
    { name: "GALILEO", points: agcPoints(agcGalileoPre, agcGalileoJam, agcGalileoPost) },
    { name: "GPS", points: agcPoints(agcGpsPre, agcGpsJam, agcGpsPost) },
    { name: "BEIDOU", points: agcPoints(agcBeidouHiPre, agcBeidouHiJam, agcBeidouHiPost)
        .concat(agcPoints(agcBeidouLoPre, agcBeidouLoJam, agcBeidouLoPost)) }
  ]
});

drawPanel({
  top: 586.7, bottom: 925, legendBottom: 596, legendRow1: 539.8, captionY: 1011,
  yDomain: [0.56, 46.8], yTicks: cnoTicks, yTitle: "C/N0 [dB-Hz]", caption: "(b)",
  jamRange: cnoJamRange, dotR: 1.3,
  series: [
    { name: "GLONASS", points: trackPoints(glonassBand, 6).concat(trackPoints(glonassArcs, 5), lowPoints(glonassLow)) },
    { name: "GALILEO", points: trackPoints(galileoBand, 6).concat(trackPoints(galileoArcs, 5), lowPoints(galileoLow)) },
    { name: "GPS", points: trackPoints(gpsBand, 6).concat(trackPoints(gpsArcs, 5), lowPoints(gpsLow)) },
    { name: "BEIDOU", points: trackPoints(beidouBand, 6).concat(trackPoints(beidouArcs, 5), lowPoints(beidouLow)) }
  ]
});
</script>
</body>
</html>
